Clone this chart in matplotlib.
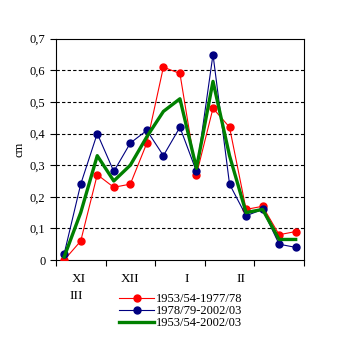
import matplotlib.pyplot as plt

plt.rcParams['font.family'] = ['Liberation Serif', 'DejaVu Serif']

months = ["XI", "XII", "I", "II"]
extra_month = "III"
labels = ["1953/54-1977/78", "1978/79-2002/03", "1953/54-2002/03"]
x = [0.5, 1.5, 2.5, 3.5, 4.5, 5.5, 6.5, 7.5, 8.5, 9.5, 10.5, 11.5, 12.5, 13.5, 14.5]
red = [0.0, 0.06, 0.27, 0.23, 0.24, 0.37, 0.61, 0.59, 0.27, 0.48, 0.42, 0.16, 0.17, 0.08, 0.09]
blue = [0.02, 0.24, 0.40, 0.28, 0.37, 0.41, 0.33, 0.42, 0.28, 0.65, 0.24, 0.14, 0.16, 0.05, 0.04]
green = [0.01, 0.15, 0.33, 0.25, 0.30, 0.39, 0.47, 0.51, 0.29, 0.565, 0.33, 0.15, 0.16, 0.065, 0.065]

fig = plt.figure(figsize=(3.41, 3.41), dpi=100)
ax = fig.add_axes([0.164, 0.2375, 0.7273, 0.649])

ax.plot(x, red, color="#ff0000", lw=0.8, marker="o", ms=5, label=labels[0], zorder=3)
ax.plot(x, blue, color="#000080", lw=0.8, marker="o", ms=5, label=labels[1], zorder=4)
ax.plot(x, green, color="#008000", lw=2.4, label=labels[2], zorder=5)

ax.set_xlim(0, 15)
ax.set_ylim(0, 0.7)
ax.set_yticks([0, 0.1, 0.2, 0.3, 0.4, 0.5, 0.6, 0.7])
ax.set_yticklabels(["0", "0,1", "0,2", "0,3", "0,4", "0,5", "0,6", "0,7"], fontsize=9)
ax.set_xticks([0, 3, 6, 9, 12, 15])
ax.set_xticklabels([])
ax.tick_params(direction="out", length=4, width=0.8)
for yv in [0.1, 0.2, 0.3, 0.4, 0.5, 0.6]:
    ax.axhline(yv, color="black", ls=(0, (3, 2)), lw=0.8, zorder=1)
for s in ax.spines.values():
    s.set_linewidth(0.8)
ax.set_ylabel("cm", fontsize=9, labelpad=3)

month_x = [1.4, 4.5, 7.9, 11.2]
for mx, m in zip(month_x, months):
    ax.text(mx, -0.06, m, ha="center", va="center", fontsize=9.5)
ax.text(1.2, -0.115, extra_month, ha="center", va="center", fontsize=9.5)

fig.legend(loc="center", bbox_to_anchor=(0.53, 0.088), frameon=False, fontsize=9,
           handlelength=2.8, labelspacing=0.0, handletextpad=0.1, borderpad=0)

fig.savefig("out.png", dpi=100)
